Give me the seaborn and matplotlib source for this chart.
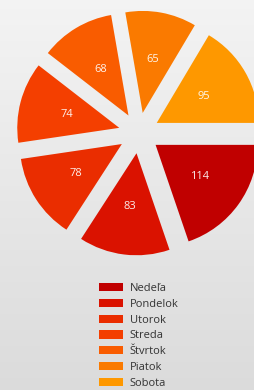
import numpy as np
import matplotlib
matplotlib.use("Agg")
import matplotlib.pyplot as plt
import matplotlib.patches as mpatches
import seaborn as sns

# Data
days = ["Nedeľa", "Pondelok", "Utorok", "Streda", "Štvrtok", "Piatok", "Sobota"]
values = [114, 83, 78, 74, 68, 65, 95]
colors = ["#C00000", "#DA1200", "#EA2D00", "#F43F00", "#F95C00", "#FA7A00", "#FE9800"]

sns.set_theme(style="white")
plt.rcParams["font.family"] = ["Open Sans", "DejaVu Sans"]

W, H, DPI = 254, 390, 100
fig = plt.figure(figsize=(W / DPI, H / DPI), dpi=DPI)

# background gradient
bg = fig.add_axes([0, 0, 1, 1], zorder=-2)
grad = np.linspace(0.955, 0.86, 256).reshape(-1, 1)
bg.imshow(np.dstack([grad, grad, grad]), aspect="auto", extent=[0, 1, 0, 1])
bg.set_axis_off()

# pie axes
cx, cy, r = 139, 133, 102
ax = fig.add_axes([0, 0, 1, 1], zorder=1)
ax.patch.set_alpha(0)
wedges, texts = ax.pie(
    values,
    colors=colors,
    startangle=0,
    counterclock=False,
    explode=[0.2] * len(values),
    labels=[str(v) for v in values],
    labeldistance=0.53,
    radius=1,
    wedgeprops=dict(linewidth=0),
    textprops=dict(color="#FFFFFF", fontsize=8, ha="center", va="center", alpha=0.92),
)
ax.set_xlim((0 - cx) / r, (W - cx) / r)
ax.set_ylim(-(H - cy) / r, cy / r)
ax.set_aspect("auto")
ax.set_axis_off()

handles = [mpatches.Patch(facecolor=c, edgecolor="none", label=d) for c, d in zip(colors, days)]
leg = fig.legend(
    handles=handles,
    loc="upper left",
    bbox_to_anchor=(99 / W, 1 - 283 / H),
    frameon=False,
    fontsize=8,
    labelspacing=0.43,
    handlelength=2.2,
    handleheight=0.75,
    handletextpad=0.55,
    borderpad=0,
    borderaxespad=0,
)
for t in leg.get_texts():
    t.set_color("#333333")

fig.savefig("out.png", dpi=DPI)
